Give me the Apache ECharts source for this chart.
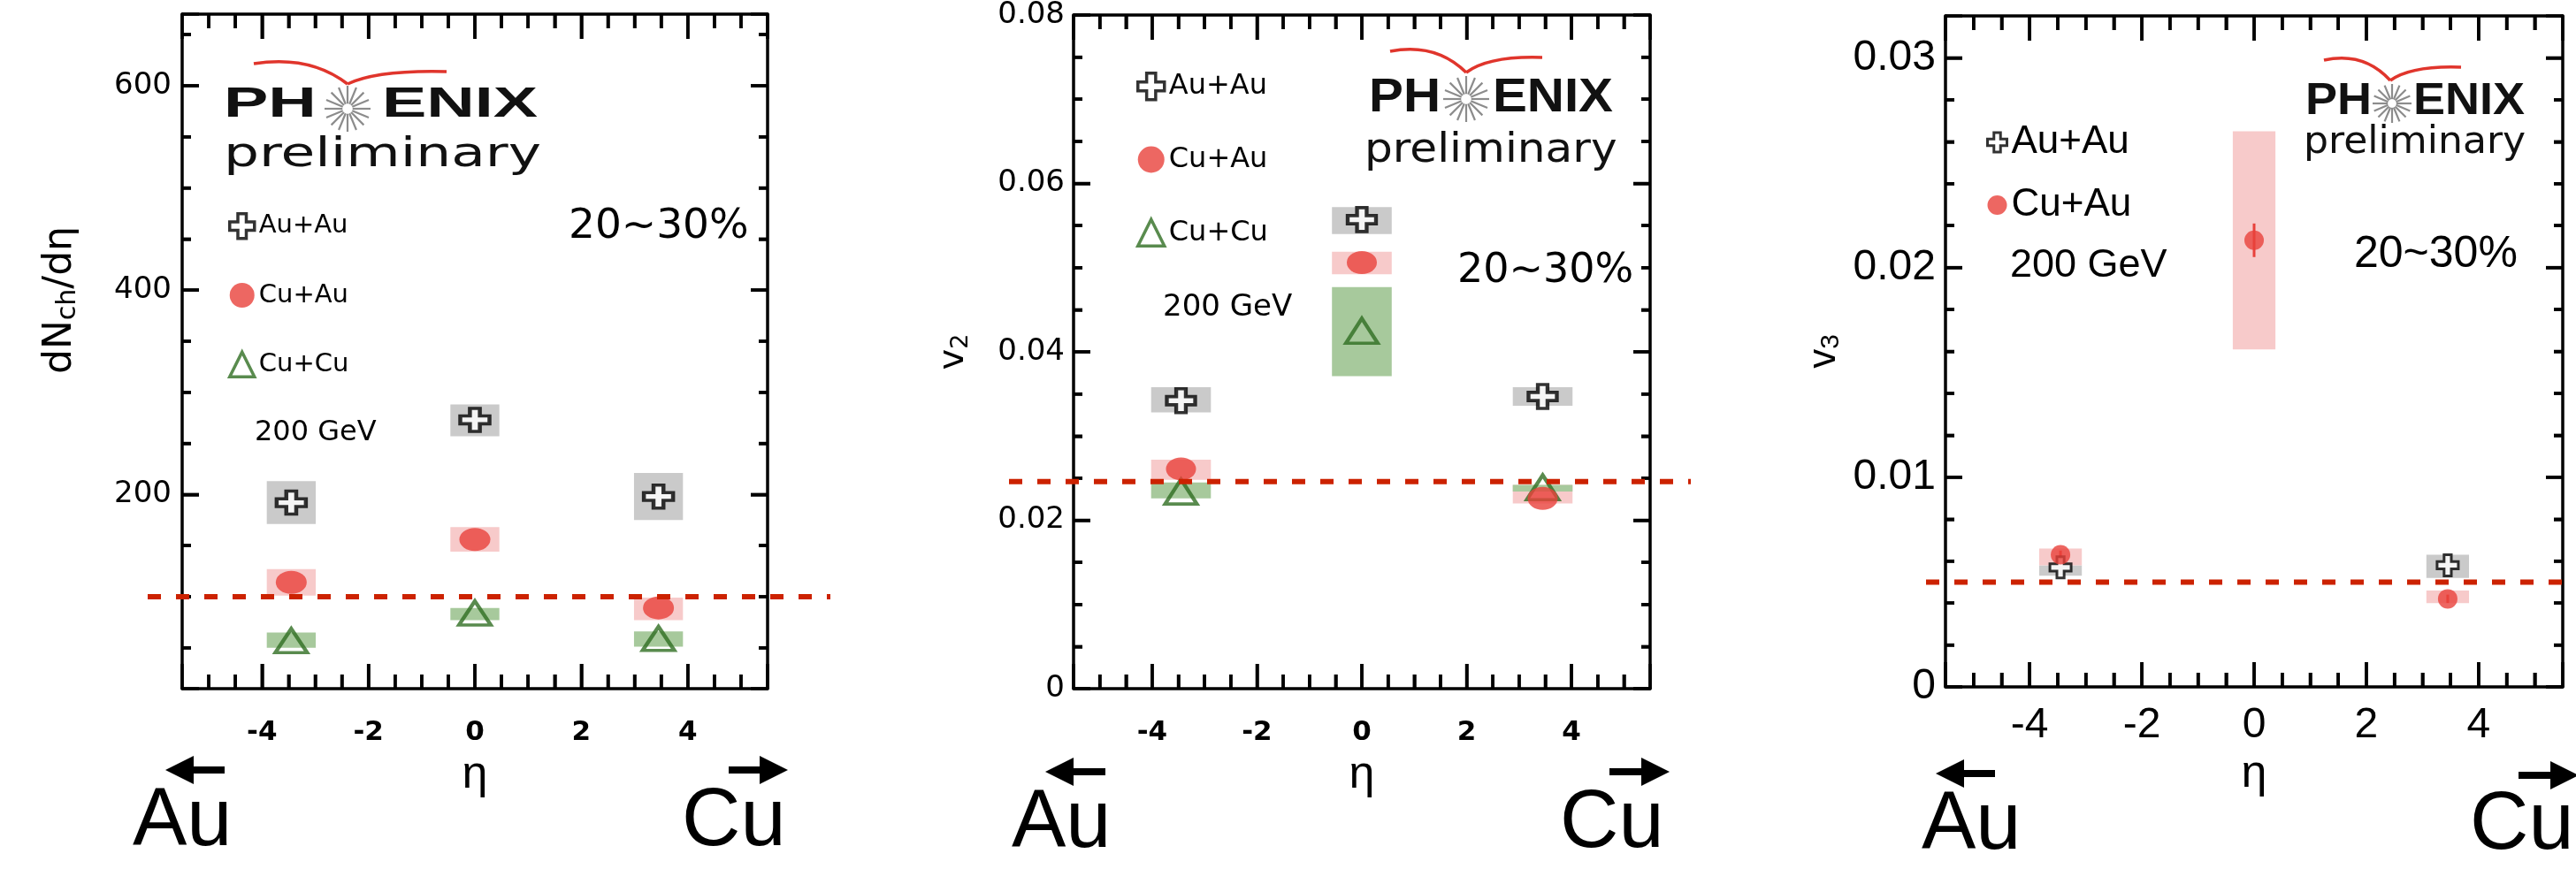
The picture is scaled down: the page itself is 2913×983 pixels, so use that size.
<!DOCTYPE html>
<html>
<head>
<meta charset="utf-8">
<title>PHENIX 20~30%</title>
<script src="https://cdn.jsdelivr.net/npm/echarts@6/dist/echarts.min.js"></script>
<style>
  html, body { margin: 0; padding: 0; background: #fff; }
  #chart { width: 2913px; height: 983px; }
</style>
</head>
<body>
<div id="chart"></div>
<script>
// eta of the measurements
const etaAll = [-3.45, 0, 3.45];
const etaSides = [-3.45, 3.45];

// dNch/deta, value and systematic band
const dndAuAu = [192, 273, 198];
const dndAuAuLo = [171, 257, 175];
const dndAuAuHi = [213, 288, 221];
const dndCuAu = [114, 156, 89];
const dndCuAuLo = [101, 144, 77];
const dndCuAuHi = [127, 168, 99];
const dndCuCu = [57, 84, 59];
const dndCuCuLo = [50, 77, 51];
const dndCuCuHi = [65, 89, 66];

// v2
const v2AuAu = [0.0342, 0.0557, 0.0347];
const v2AuAuLo = [0.0328, 0.054, 0.0336];
const v2AuAuHi = [0.0358, 0.0572, 0.0358];
const v2CuAu = [0.0261, 0.0506, 0.0226];
const v2CuAuLo = [0.0248, 0.0492, 0.022];
const v2CuAuHi = [0.0272, 0.0519, 0.0242];
const v2CuCu = [0.0234, 0.0425, 0.0239];
const v2CuCuLo = [0.0226, 0.0371, 0.0234];
const v2CuCuHi = [0.0245, 0.0477, 0.0242];

// v3 (no Au+Au point at mid rapidity)
const v3AuAu = [0.0057, 0.0058];
const v3AuAuLo = [0.0053, 0.0052];
const v3AuAuHi = [0.0058, 0.0063];
const v3CuAu = [0.0063, 0.0213, 0.0042];
const v3CuAuLo = [0.0058, 0.0161, 0.004];
const v3CuAuHi = [0.0066, 0.0265, 0.0046];
const v3CuAuStat = [0.0002, 0.0008, 0.0002];

// dashed reference level per panel
const refLevel = [100, 0.0245, 0.005];

// tick labels and tick marks
const etaMajor = [-4, -2, 0, 2, 4];
const etaMinor = [-5, -4.5, -3.5, -3, -2.5, -1.5, -1, -0.5, 0.5, 1, 1.5, 2.5, 3, 3.5, 4.5, 5];
const dndMajor = [200, 400, 600];
const dndMinor = [50, 100, 150, 250, 300, 350, 450, 500, 550, 650];
const v2Major = [0, 0.02, 0.04, 0.06, 0.08];
const v2Minor = [0.005, 0.01, 0.015, 0.025, 0.03, 0.035, 0.045, 0.05, 0.055, 0.065, 0.07, 0.075];
const v3Major = [0, 0.01, 0.02, 0.03];
const v3Minor = [0.002, 0.004, 0.006, 0.008, 0.012, 0.014, 0.016, 0.018, 0.022, 0.024, 0.026, 0.028];

const SANS = 'DejaVu Sans';
const ARIAL = 'Liberation Sans';
const BLACK = '#000';
const CROSS = 'path://M3.3,0H6.7V3.3H10V6.7H6.7V10H3.3V6.7H0V3.3H3.3Z';
const RED = '#e8413b';
const GREEN = '#2f6e22';
const GRAY_BAND = '#cacaca';
const PINK_BAND = '#f7caca';
const GREEN_BAND = '#a7c99c';
const X_MIN = -5.5;
const X_MAX = 5.5;
const TICK_W = 3.5;

// layout of the three frames; ySplit / yMinorSplit give the nice major step and minor ticks
const panels = [
  {
    left: 206, top: 16, width: 662, height: 763, yMin: 10, yMax: 670, ySplit: 3, yMinorSplit: 4,
    yMajor: dndMajor, yMinor: dndMinor, fmt: v => String(v),
    yLabel: { fontFamily: SANS, fontSize: 34, margin: 12 },
    xLabel: { fontFamily: SANS, fontSize: 31, fontWeight: 'bold', margin: 34 },
    name: '{a|dN}{s|ch}{a|/dη}', nameFont: SANS, nameSize: 44, nameGap: 114, namePad: [0, 0, 0, 116],
    ref: { left: 167, width: 772 }, halfW: 0.46
  },
  {
    left: 1214, top: 14, width: 652, height: 765, yMin: 0, yMax: 0.08, ySplit: 4, yMinorSplit: 4,
    yMajor: v2Major, yMinor: v2Minor, fmt: v => (v === 0 ? '0' : v.toFixed(2)),
    yLabel: { fontFamily: SANS, fontSize: 34, margin: 10 },
    xLabel: { fontFamily: SANS, fontSize: 31, fontWeight: 'bold', margin: 34 },
    name: '{a|v}{s|2}', nameFont: SANS, nameSize: 40, nameGap: 114, namePad: [0, 0, 0, 0],
    ref: { left: 1141, width: 771 }, halfW: 0.57
  },
  {
    left: 2200, top: 18, width: 698, height: 759, yMin: 0, yMax: 0.032, ySplit: 3, yMinorSplit: 5,
    yMajor: v3Major, yMinor: v3Minor, fmt: v => (v === 0 ? '0' : v.toFixed(2)),
    yLabel: { fontFamily: ARIAL, fontSize: 48, margin: 11 },
    xLabel: { fontFamily: ARIAL, fontSize: 48, fontWeight: 'normal', margin: 20 },
    name: '{a|v}{s|3}', nameFont: ARIAL, nameSize: 44, nameGap: 114, namePad: [0, 0, 0, 0],
    ref: { left: 2178, width: 735 }, halfW: 0.38
  }
];

const tickLine = { color: BLACK, width: TICK_W };
const grid = [];
const xAxis = [];
const yAxis = [];

function frameSide(majorLen, minorLen, minorSplit) {
  return {
    axisLine: { show: true, onZero: false, lineStyle: { color: BLACK, width: 3.5 } },
    axisTick: { show: true, inside: true, length: majorLen, lineStyle: tickLine },
    minorTick: { show: true, splitNumber: minorSplit, length: minorLen, lineStyle: tickLine }
  };
}

panels.forEach((p, i) => {
  grid.push({ left: p.left, top: p.top, width: p.width, height: p.height });
  const xr = { type: 'value', gridIndex: i, min: X_MIN, max: X_MAX, splitNumber: 5, splitLine: { show: false } };
  const yr = { type: 'value', gridIndex: i, min: p.yMin, max: p.yMax, splitNumber: p.ySplit, splitLine: { show: false } };
  xAxis.push(Object.assign({}, xr, frameSide(28, 16, 4), {
    position: 'bottom',
    axisLabel: Object.assign({ customValues: etaMajor, color: BLACK }, p.xLabel),
    name: 'η', nameLocation: 'middle', nameGap: 72,
    nameTextStyle: { fontFamily: ARIAL, fontSize: 52, color: BLACK }
  }));
  xAxis.push(Object.assign({}, xr, frameSide(28, 16, 4), { position: 'top', axisLabel: { show: false } }));
  yAxis.push(Object.assign({}, yr, frameSide(19, 10, p.yMinorSplit), {
    position: 'left',
    axisLabel: Object.assign({ customValues: p.yMajor, color: BLACK, formatter: p.fmt }, p.yLabel),
    name: p.name, nameLocation: 'middle', nameGap: p.nameGap, nameRotate: 90,
    nameTextStyle: {
      padding: p.namePad,
      rich: {
        a: { fontFamily: p.nameFont, fontSize: p.nameSize, color: BLACK },
        s: { fontFamily: p.nameFont, fontSize: Math.round(p.nameSize * 0.68), color: BLACK,
             verticalAlign: 'bottom', padding: [16, 0, 0, 0] }
      }
    }
  }));
  yAxis.push(Object.assign({}, yr, frameSide(19, 10, p.yMinorSplit), { position: 'right', axisLabel: { show: false } }));
});

// wider hidden grids for the dashed reference lines (they run past the frames)
panels.forEach((p, i) => {
  grid.push({ left: p.ref.left, top: p.top, width: p.ref.width, height: p.height });
  xAxis.push({ type: 'value', gridIndex: 3 + i, min: 0, max: 1, show: false });
  yAxis.push({ type: 'value', gridIndex: 3 + i, min: p.yMin, max: p.yMax, show: false });
});

function sysBox(halfW, color) {
  return function (params, api) {
    const a = api.coord([api.value(0) - halfW, api.value(2)]);
    const b = api.coord([api.value(0) + halfW, api.value(1)]);
    return {
      type: 'rect',
      shape: { x: a[0], y: a[1], width: b[0] - a[0], height: b[1] - a[1] },
      style: { fill: color }
    };
  };
}

function statBar(color) {
  return function (params, api) {
    const a = api.coord([api.value(0), api.value(1)]);
    const b = api.coord([api.value(0), api.value(2)]);
    return {
      type: 'line',
      shape: { x1: a[0], y1: a[1], x2: b[0], y2: b[1] },
      style: { stroke: color, lineWidth: 3 }
    };
  };
}

// one inward tick mark on one frame side, placed through the axis scale
function tickMark(p, side, len) {
  return function (params, api) {
    let c, shape;
    if (side === 'bottom') {
      c = api.coord([api.value(0), p.yMin]);
      shape = { x: c[0] - TICK_W / 2, y: c[1] - len, width: TICK_W, height: len };
    } else if (side === 'top') {
      c = api.coord([api.value(0), p.yMax]);
      shape = { x: c[0] - TICK_W / 2, y: c[1], width: TICK_W, height: len };
    } else if (side === 'left') {
      c = api.coord([X_MIN, api.value(1)]);
      shape = { x: c[0], y: c[1] - TICK_W / 2, width: len, height: TICK_W };
    } else {
      c = api.coord([X_MAX, api.value(1)]);
      shape = { x: c[0] - len, y: c[1] - TICK_W / 2, width: len, height: TICK_W };
    }
    return { type: 'rect', shape, style: { fill: BLACK } };
  };
}

const species = {
  'Au+Au': { symbol: CROSS, itemStyle: { color: '#fff', borderColor: BLACK, borderWidth: 4 }, band: GRAY_BAND, z: 5 },
  'Cu+Au': { symbol: 'circle', itemStyle: { color: RED }, band: PINK_BAND, z: 6 },
  'Cu+Cu': { symbol: 'triangle', itemStyle: { color: 'rgba(0,0,0,0)', borderColor: GREEN, borderWidth: 4 }, band: GREEN_BAND, z: 4 }
};

// one entry per measured curve: panel, name, eta, values, band low/high, marker size
const curves = [
  [0, 'Au+Au', etaAll, dndAuAu, dndAuAuLo, dndAuAuHi, [33, 26]],
  [0, 'Cu+Au', etaAll, dndCuAu, dndCuAuLo, dndCuAuHi, [35, 26]],
  [0, 'Cu+Cu', etaAll, dndCuCu, dndCuCuLo, dndCuCuHi, [36, 27]],
  [1, 'Au+Au', etaAll, v2AuAu, v2AuAuLo, v2AuAuHi, [32, 27]],
  [1, 'Cu+Au', etaAll, v2CuAu, v2CuAuLo, v2CuAuHi, [34, 26]],
  [1, 'Cu+Cu', etaAll, v2CuCu, v2CuCuLo, v2CuCuHi, [36, 28]],
  [2, 'Au+Au', etaSides, v3AuAu, v3AuAuLo, v3AuAuHi, [24, 24]],
  [2, 'Cu+Au', etaAll, v3CuAu, v3CuAuLo, v3CuAuHi, [22, 22]]
];

const series = [];
panels.forEach((p, i) => {
  const yMid = (p.yMin + p.yMax) / 2;
  const tickSets = [
    ['bottom', etaMajor, 28], ['top', etaMajor, 28], ['bottom', etaMinor, 16], ['top', etaMinor, 16],
    ['left', p.yMajor, 19], ['right', p.yMajor, 19], ['left', p.yMinor, 10], ['right', p.yMinor, 10]
  ];
  tickSets.forEach(([side, values, len], k) => {
    const onX = side === 'bottom' || side === 'top';
    series.push({
      type: 'custom', name: 'tick ' + i + '-' + k,
      xAxisIndex: i * 2, yAxisIndex: i * 2, z: 7, silent: true, clip: false,
      renderItem: tickMark(p, side, len),
      encode: { x: 0, y: 1 },
      data: values.map(v => (onX ? [v, yMid] : [0, v]))
    });
  });
});
curves.forEach(([pi, name, eta, val, lo, hi]) => {
  series.push({
    type: 'custom', name: name + ' sys',
    xAxisIndex: pi * 2, yAxisIndex: pi * 2, z: 1, silent: true,
    renderItem: sysBox(panels[pi].halfW, species[name].band),
    encode: { x: 0, y: [1, 2] },
    data: eta.map((x, k) => [x, lo[k], hi[k]])
  });
});
series.push({
  type: 'custom', name: 'Cu+Au stat',
  xAxisIndex: 4, yAxisIndex: 4, z: 3, silent: true,
  renderItem: statBar(RED),
  encode: { x: 0, y: [1, 2] },
  data: etaAll.map((x, k) => [x, v3CuAu[k] - v3CuAuStat[k], v3CuAu[k] + v3CuAuStat[k]])
});
curves.forEach(([pi, name, eta, val, lo, hi, size]) => {
  const sp = species[name];
  series.push({
    type: 'scatter', name,
    xAxisIndex: pi * 2, yAxisIndex: pi * 2, z: sp.z, silent: true,
    symbol: sp.symbol, symbolSize: size,
    itemStyle: Object.assign({}, sp.itemStyle, pi === 2 && name === 'Au+Au' ? { borderWidth: 3 } : {}),
    data: eta.map((x, k) => [x, val[k]])
  });
});
refLevel.forEach((v, i) => {
  series.push({
    type: 'line', name: 'ref ' + i,
    xAxisIndex: 6 + i, yAxisIndex: 6 + i, z: 8, silent: true,
    symbol: 'none',
    lineStyle: { color: '#cc2200', width: 6, type: [15, 17] },
    data: [[0, v], [1, v]]
  });
});

function legendData(names, bw) {
  return names.map(n => ({
    name: n,
    itemStyle: Object.assign({}, species[n].itemStyle, species[n].itemStyle.borderColor ? { borderWidth: bw } : {})
  }));
}

const legend = [
  {
    left: 253, top: 235, orient: 'vertical', selectedMode: false,
    itemWidth: 28, itemHeight: 28, itemGap: 48,
    textStyle: { fontFamily: SANS, fontSize: 29, color: BLACK },
    data: legendData(['Au+Au', 'Cu+Au', 'Cu+Cu'], 3.5)
  },
  {
    left: 1280, top: 76, orient: 'vertical', selectedMode: false,
    itemWidth: 30, itemHeight: 30, itemGap: 50,
    textStyle: { fontFamily: SANS, fontSize: 32, color: BLACK },
    data: legendData(['Au+Au', 'Cu+Au', 'Cu+Cu'], 3.5)
  },
  {
    left: 2241, top: 134, orient: 'vertical', selectedMode: false,
    itemWidth: 22, itemHeight: 22, itemGap: 27,
    textStyle: { fontFamily: ARIAL, fontSize: 44, color: BLACK },
    data: legendData(['Au+Au', 'Cu+Au'], 3)
  }
];

function text(x, y, str, font, size) {
  return {
    type: 'text', x, y, z: 50,
    style: { text: str, fontFamily: font, fontSize: size, fill: BLACK, align: 'left', verticalAlign: 'middle' }
  };
}

function arrow(tailX, tipX, y) {
  const dir = tipX > tailX ? 1 : -1;
  const baseX = tipX - dir * 32;
  return [
    { type: 'line', z: 50, shape: { x1: tailX, y1: y, x2: baseX, y2: y }, style: { stroke: BLACK, lineWidth: 8 } },
    { type: 'polygon', z: 50, shape: { points: [[tipX, y], [baseX, y - 16], [baseX, y + 16]] }, style: { fill: BLACK } }
  ];
}

function phenixLogo(o) {
  const els = [];
  els.push({
    type: 'text', x: o.phX, y: o.capY, scaleX: o.capScale, z: 50,
    style: { text: 'PH', fontFamily: ARIAL, fontWeight: 'bold', fontSize: o.capFont, fill: '#111', align: 'left', verticalAlign: 'middle' }
  });
  els.push({
    type: 'text', x: o.enixRight, y: o.capY, scaleX: o.capScale, z: 50,
    style: { text: 'ENIX', fontFamily: ARIAL, fontWeight: 'bold', fontSize: o.capFont, fill: '#111', align: 'right', verticalAlign: 'middle' }
  });
  for (let k = 0; k < 16; k++) {
    const t = k * Math.PI / 8;
    els.push({
      type: 'line', z: 50,
      shape: {
        x1: o.starX + Math.cos(t) * o.starR * 0.22, y1: o.starY + Math.sin(t) * o.starR * 0.22,
        x2: o.starX + Math.cos(t) * o.starR, y2: o.starY + Math.sin(t) * o.starR
      },
      style: { stroke: '#8c8c8c', lineWidth: 2.2 }
    });
  }
  els.push({
    type: 'text', x: o.preX, y: o.preY, scaleX: o.preScale, z: 50,
    style: { text: 'preliminary', fontFamily: SANS, fontSize: o.preFont, fill: '#111', align: 'left', verticalAlign: 'middle' }
  });
  const [s, d, e] = o.arc;
  els.push({
    type: 'bezierCurve', z: 50,
    shape: { x1: s[0], y1: s[1], x2: d[0], y2: d[1], cpx1: s[0] + 0.6 * (d[0] - s[0]), cpy1: s[1] - 10 },
    style: { stroke: '#e0352c', lineWidth: 3.5, fill: null }
  });
  els.push({
    type: 'bezierCurve', z: 50,
    shape: { x1: d[0], y1: d[1], x2: e[0], y2: e[1], cpx1: d[0] + 0.3 * (e[0] - d[0]), cpy1: e[1] - 2 },
    style: { stroke: '#e0352c', lineWidth: 3.5, fill: null }
  });
  return els;
}

const graphic = [].concat(
  phenixLogo({ phX: 253, enixRight: 608, capY: 118, capFont: 49, capScale: 1.54, starX: 393, starY: 123, starR: 26,
    preX: 253, preY: 176, preFont: 46, preScale: 1.37, arc: [[287, 72], [393, 95], [505, 81]] }),
  phenixLogo({ phX: 1548, enixRight: 1824, capY: 111, capFont: 54, capScale: 1.08, starX: 1658, starY: 112, starR: 26,
    preX: 1543, preY: 171, preFont: 46, preScale: 1.09, arc: [[1572, 58], [1658, 82], [1744, 65]] }),
  phenixLogo({ phX: 2607, enixRight: 2855, capY: 115, capFont: 50, capScale: 1.08, starX: 2705, starY: 117, starR: 22,
    preX: 2605, preY: 162, preFont: 42, preScale: 1.05, arc: [[2628, 68], [2703, 91], [2783, 76]] }),
  [
    text(288, 490, '200 GeV', SANS, 32),
    text(643, 257, '20~30%', SANS, 47),
    text(1315, 348, '200 GeV', SANS, 34),
    text(1648, 307, '20~30%', SANS, 46),
    text(2273, 301, '200 GeV', ARIAL, 45),
    text(2662, 288, '20~30%', ARIAL, 50),
    text(150, 931, 'Au', ARIAL, 92),
    text(771, 931, 'Cu', ARIAL, 92),
    text(1144, 933, 'Au', ARIAL, 92),
    text(1764, 933, 'Cu', ARIAL, 92),
    text(2173, 935, 'Au', ARIAL, 92),
    text(2793, 935, 'Cu', ARIAL, 92)
  ],
  arrow(254, 187, 871), arrow(824, 891, 871),
  arrow(1250, 1182, 873), arrow(1820, 1888, 873),
  arrow(2256, 2189, 875), arrow(2848, 2916, 877)
);

const chart = echarts.init(document.getElementById('chart'), null, { renderer: 'canvas' });
chart.setOption({
  backgroundColor: '#fff',
  animation: false,
  grid,
  xAxis,
  yAxis,
  legend,
  series,
  graphic
});
</script>
</body>
</html>
